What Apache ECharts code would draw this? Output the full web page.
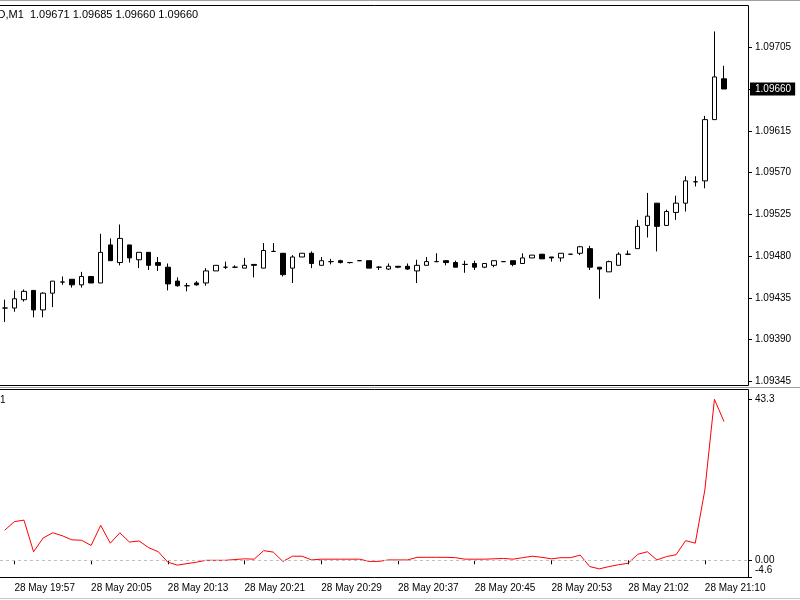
<!DOCTYPE html>
<html>
<head>
<meta charset="utf-8">
<script src="https://cdn.jsdelivr.net/npm/echarts@6/dist/echarts.min.js"></script>
<style>
  html, body { margin: 0; padding: 0; background: #fff; }
  #chart { width: 800px; height: 600px; }
</style>
</head>
<body>
<div id="chart"></div>
<script>
// M1 bars, 28 May
const times = [
  '19:56', '19:57', '19:58', '19:59', '20:00', '20:01', '20:02', '20:03', '20:04', '20:05',
  '20:06', '20:07', '20:08', '20:09', '20:10', '20:11', '20:12', '20:13', '20:14', '20:15',
  '20:16', '20:17', '20:18', '20:19', '20:20', '20:21', '20:22', '20:23', '20:24', '20:25',
  '20:26', '20:27', '20:28', '20:29', '20:30', '20:31', '20:32', '20:33', '20:34', '20:35',
  '20:36', '20:37', '20:38', '20:39', '20:40', '20:41', '20:42', '20:43', '20:44', '20:45',
  '20:46', '20:47', '20:48', '20:49', '20:50', '20:51', '20:52', '20:53', '20:55', '20:56',
  '20:57', '20:58', '20:59', '21:00', '21:01', '21:02', '21:03', '21:04', '21:05', '21:06',
  '21:07', '21:08', '21:09', '21:10', '21:11', '21:12'
]
const opens = [
  1.09424, 1.09424, 1.09433, 1.09443, 1.09422, 1.09440, 1.09452, 1.09455, 1.09449, 1.09458,
  1.09451, 1.09492, 1.09473, 1.09492, 1.09476, 1.09484, 1.09473, 1.09468, 1.09453, 1.09448,
  1.09451, 1.09451, 1.09464, 1.09468, 1.09468, 1.09467, 1.09471, 1.09467, 1.09485, 1.09483,
  1.09467, 1.09479, 1.09483, 1.09470, 1.09474, 1.09475, 1.09473, 1.09475, 1.09475, 1.09468,
  1.09466, 1.09469, 1.09469, 1.09464, 1.09470, 1.09474, 1.09475, 1.09473, 1.09471, 1.09472,
  1.09468, 1.09470, 1.09474, 1.09475, 1.09472, 1.09478, 1.09482, 1.09479, 1.09478, 1.09482,
  1.09483, 1.09488, 1.09468, 1.09463, 1.09470, 1.09482, 1.09488, 1.09513, 1.09537, 1.09513,
  1.09527, 1.09537, 1.09560, 1.09561, 1.09627, 1.09671
]
const highs = [
  1.09433, 1.09443, 1.09444, 1.09443, 1.09441, 1.09453, 1.09458, 1.09455, 1.09463, 1.09458,
  1.09504, 1.09499, 1.09514, 1.09492, 1.09484, 1.09484, 1.09479, 1.09472, 1.09457, 1.09451,
  1.09453, 1.09467, 1.09470, 1.09474, 1.09470, 1.09478, 1.09471, 1.09494, 1.09494, 1.09483,
  1.09481, 1.09483, 1.09485, 1.09479, 1.09477, 1.09476, 1.09473, 1.09475, 1.09475, 1.09469,
  1.09472, 1.09469, 1.09472, 1.09476, 1.09479, 1.09483, 1.09475, 1.09475, 1.09475, 1.09475,
  1.09472, 1.09475, 1.09474, 1.09475, 1.09483, 1.09481, 1.09482, 1.09479, 1.09483, 1.09482,
  1.09491, 1.09491, 1.09468, 1.09475, 1.09484, 1.09486, 1.09519, 1.09548, 1.09537, 1.09530,
  1.09545, 1.09566, 1.09566, 1.09631, 1.09722, 1.09685
]
const lows = [
  1.09409, 1.09420, 1.09431, 1.09414, 1.09414, 1.09425, 1.09449, 1.09446, 1.09446, 1.09451,
  1.09451, 1.09475, 1.09470, 1.09473, 1.09467, 1.09465, 1.09464, 1.09443, 1.09447, 1.09442,
  1.09448, 1.09448, 1.09464, 1.09466, 1.09467, 1.09467, 1.09457, 1.09467, 1.09485, 1.09458,
  1.09451, 1.09479, 1.09467, 1.09470, 1.09471, 1.09472, 1.09472, 1.09475, 1.09467, 1.09465,
  1.09465, 1.09467, 1.09465, 1.09451, 1.09470, 1.09474, 1.09470, 1.09468, 1.09462, 1.09465,
  1.09467, 1.09468, 1.09474, 1.09469, 1.09472, 1.09478, 1.09477, 1.09474, 1.09474, 1.09482,
  1.09481, 1.09465, 1.09434, 1.09463, 1.09470, 1.09481, 1.09488, 1.09500, 1.09485, 1.09513,
  1.09519, 1.09528, 1.09555, 1.09553, 1.09627, 1.09660
]
const closes = [
  1.09424, 1.09434, 1.09442, 1.09422, 1.09440, 1.09453, 1.09452, 1.09449, 1.09458, 1.09451,
  1.09484, 1.09475, 1.09499, 1.09478, 1.09484, 1.09470, 1.09470, 1.09450, 1.09448, 1.09448,
  1.09449, 1.09464, 1.09470, 1.09468, 1.09468, 1.09470, 1.09470, 1.09486, 1.09485, 1.09460,
  1.09479, 1.09483, 1.09472, 1.09475, 1.09474, 1.09473, 1.09473, 1.09475, 1.09467, 1.09468,
  1.09469, 1.09468, 1.09466, 1.09470, 1.09474, 1.09474, 1.09473, 1.09468, 1.09471, 1.09468,
  1.09472, 1.09475, 1.09474, 1.09471, 1.09478, 1.09481, 1.09477, 1.09478, 1.09483, 1.09482,
  1.09490, 1.09468, 1.09466, 1.09474, 1.09482, 1.09482, 1.09512, 1.09523, 1.09512, 1.09528,
  1.09537, 1.09561, 1.09560, 1.09627, 1.09673, 1.09660
]
// oscillator in the lower window
const osc = [
  8.1, 10.4, 10.8, 2.3, 6.0, 7.4, 6.6, 5.5, 5.4, 4.0,
  9.4, 4.6, 7.4, 4.9, 5.2, 3.4, 2.3, -0.5, -1.3, -0.9,
  -0.5, 0.0, 0.0, 0.0, 0.2, 0.4, 0.3, 2.6, 2.2, -0.3,
  1.1, 1.1, 0.1, 0.3, 0.3, 0.3, 0.3, 0.3, -0.3, -0.3,
  0.1, 0.1, 0.1, 0.8, 0.8, 0.8, 0.8, 0.7, 0.3, 0.3,
  0.3, 0.4, 0.5, 0.3, 0.7, 1.1, 0.8, 0.4, 0.7, 0.7,
  1.4, -1.7, -2.3, -1.7, -1.2, -0.8, 1.6, 2.3, 0.1, 1.0,
  1.5, 5.3, 4.6, 18.9, 43.3, 37.3
]
const priceTicks = [1.09345, 1.09390, 1.09435, 1.09480, 1.09525, 1.09570, 1.09615, 1.09660, 1.09705]
const oscTicks = [43.3, 0, -4.6]
const bid = 1.09660

const FONT = '"Liberation Sans", Arial, sans-serif'
const SHIFT = 2 // empty bars kept on the right

const cats = times.map(t => '28 May ' + t).concat(Array(SHIFT).fill(''))
const candles = times.map((t, i) => [opens[i], closes[i], lows[i], highs[i]])
const n = times.length
const isLabel = (i) => i < n && i % 8 === 1
const header = 'EURUSD,M1  ' + [opens[n - 1], highs[n - 1], lows[n - 1], closes[n - 1]].map(v => v.toFixed(5)).join(' ')

const txt = { fontSize: 10, fontFamily: FONT, color: '#000' }
// pane frames, left side is scrolled off screen
const frame = { stroke: '#000', lineWidth: 1, fill: null }

const option = {
  animation: false,
  backgroundColor: '#fff',
  grid: [
    { left: -2, right: 52, top: 5, bottom: 214, show: false },
    { left: -2, right: 52, top: 389, bottom: 22, show: false }
  ],
  xAxis: [
    {
      type: 'category', gridIndex: 0, data: cats,
      axisLine: { show: false }, axisTick: { show: false }, axisLabel: { show: false }, splitLine: { show: false }
    },
    {
      type: 'category', gridIndex: 1, data: cats,
      axisLine: { show: false },
      axisTick: { show: true, alignWithLabel: true, interval: isLabel, length: 4, lineStyle: { color: '#000' } },
      axisLabel: { interval: isLabel, align: 'left', margin: 5, ...txt },
      splitLine: { show: false }
    }
  ],
  yAxis: [
    {
      type: 'value', gridIndex: 0, position: 'right', min: 1.09340, max: 1.097505,
      splitLine: { show: false }, axisLine: { show: false },
      axisTick: { show: true, length: 4, customValues: priceTicks, lineStyle: { color: '#000' } },
      axisLabel: {
        customValues: priceTicks,
        formatter: v => Math.abs(v - bid) < 1e-7 ? '{b|' + v.toFixed(5) + '}' : '{n|' + v.toFixed(5) + '}',
        rich: {
          n: { ...txt, padding: [0, 0, 0, 5] },
          b: { ...txt, color: '#fff', backgroundColor: '#000', padding: [2, 4, 1, 5] }
        },
        ...txt, margin: 2
      }
    },
    {
      type: 'value', gridIndex: 1, position: 'right', min: -4.76, max: 46.07,
      splitLine: { show: false }, axisLine: { show: false },
      axisTick: { show: true, length: 4, customValues: oscTicks, lineStyle: { color: '#000' } },
      axisLabel: {
        customValues: oscTicks,
        formatter: v => v === 0 ? '0.00' : (v < 0 ? '{lo|' + v.toFixed(1) + '}' : v.toFixed(1)),
        rich: { lo: { ...txt, padding: [0, 0, 14, 0] } },
        ...txt, margin: 7
      }
    }
  ],
  series: [
    {
      type: 'candlestick', xAxisIndex: 0, yAxisIndex: 0, data: candles, barWidth: 5,
      itemStyle: { color: '#fff', color0: '#000', borderColor: '#000', borderColor0: '#000', borderColorDoji: '#000', borderWidth: 1 },
      markLine: {
        silent: true, symbol: 'none', animation: false, z: 1,
        lineStyle: { color: '#c0c0c0', type: 'solid', width: 1 },
        label: { show: false },
        emphasis: { disabled: true },
        data: [{ yAxis: bid }]
      }
    },
    {
      type: 'line', xAxisIndex: 1, yAxisIndex: 1, data: osc, symbol: 'none',
      lineStyle: { color: '#ff0000', width: 1 }, itemStyle: { color: '#ff0000' },
      markLine: {
        silent: true, symbol: 'none', animation: false, label: { show: false },
        lineStyle: { color: '#c0c0c0', type: [3, 3], width: 1 },
        emphasis: { disabled: true },
        data: [{ yAxis: 0 }]
      }
    }
  ],
  graphic: [
    { type: 'line', shape: { x1: 0, y1: 0.5, x2: 800, y2: 0.5 }, style: { stroke: '#a0a0a0', lineWidth: 1 } },
    { type: 'line', shape: { x1: 0, y1: 387.5, x2: 800, y2: 387.5 }, style: { stroke: '#a0a0a0', lineWidth: 1 } },
    { type: 'line', shape: { x1: 0, y1: 598.5, x2: 800, y2: 598.5 }, style: { stroke: '#c8c8c8', lineWidth: 1 } },
    { type: 'polyline', shape: { points: [[0, 5.5], [748.5, 5.5], [748.5, 385.5], [0, 385.5]] }, style: frame },
    { type: 'polyline', shape: { points: [[0, 389.5], [748.5, 389.5], [748.5, 577.5], [0, 577.5]] }, style: frame },
    { type: 'text', x: -41, y: 15, style: { text: header, font: '11px ' + FONT, fill: '#000', verticalAlign: 'middle' } },
    { type: 'text', x: 0, y: 400, style: { text: '1', font: '10px ' + FONT, fill: '#000', verticalAlign: 'middle' } },
    { type: 'text', x: -62, y: 589, style: { text: '28 May 19:49', font: '10px ' + FONT, fill: '#000', verticalAlign: 'middle' } }
  ]
}

const chart = echarts.init(document.getElementById('chart'))
chart.setOption(option)
</script>
</body>
</html>
